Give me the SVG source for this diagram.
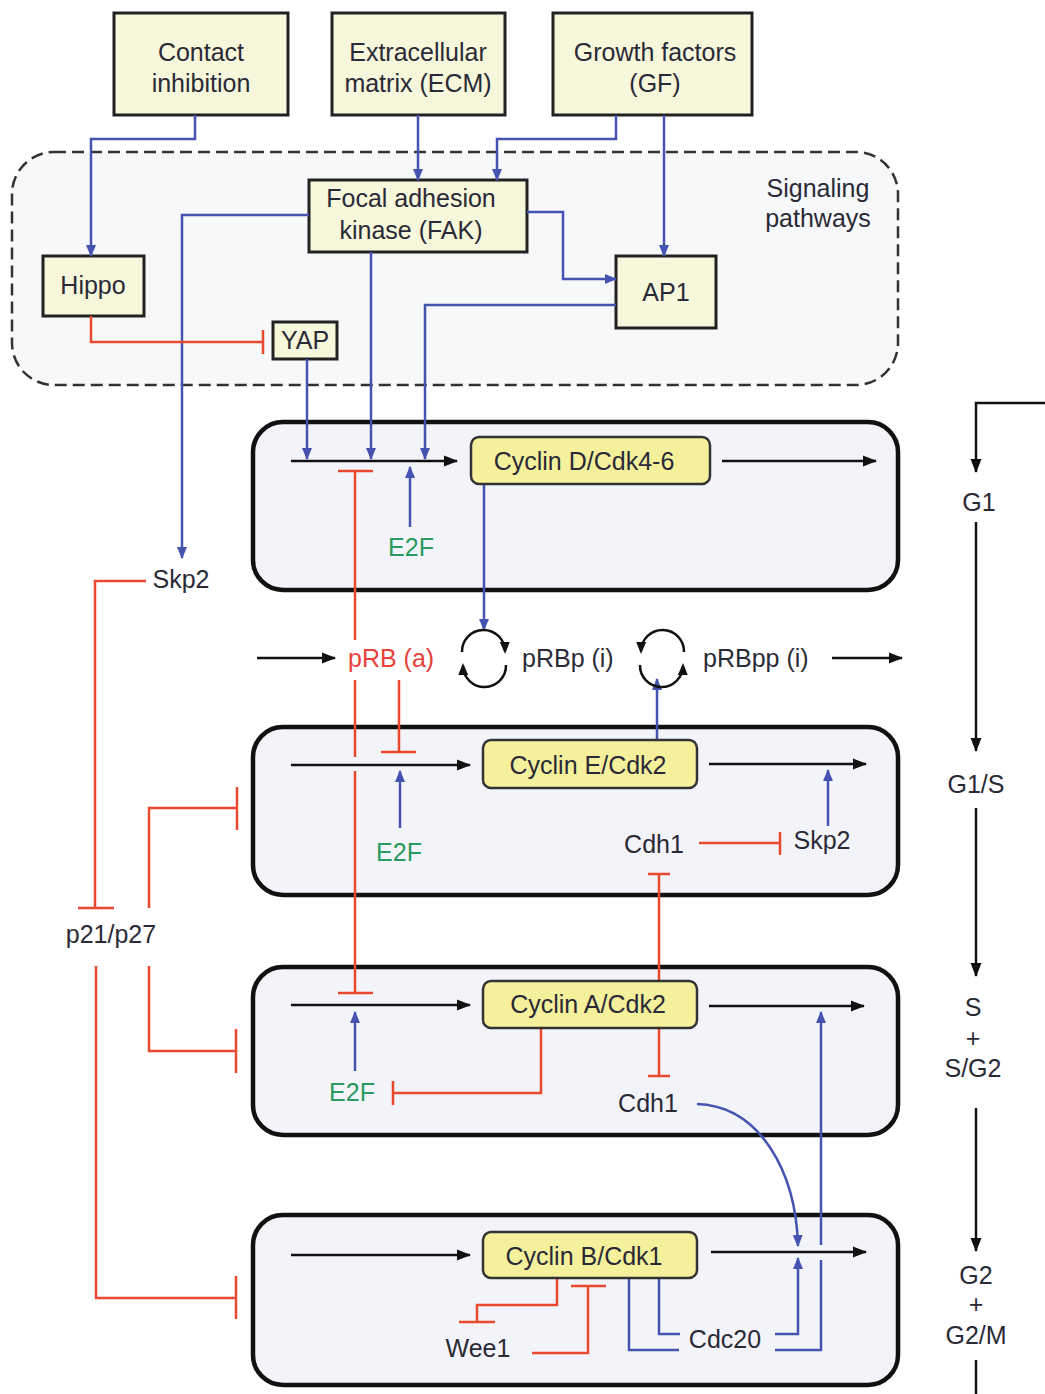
<svg xmlns="http://www.w3.org/2000/svg" width="1045" height="1394" viewBox="0 0 1045 1394">
<style>
.box{fill:#f7f7dc;stroke:#222;stroke-width:3}
.phase{fill:#f3f4f9;stroke:#111;stroke-width:4.5}
.cyc{fill:#f4f09c;stroke:#333;stroke-width:2.5}
text{font-family:"Liberation Sans",Arial,sans-serif;font-size:25px;fill:#2a2a36}
.c{text-anchor:middle}
.red{fill:#e8413a}
.grn{fill:#2a9a5e}
.b{fill:none;stroke:#4553b0;stroke-width:2.5}
.r{fill:none;stroke:#e8492f;stroke-width:2.5}
.k{fill:none;stroke:#111;stroke-width:2.5}
</style>
<defs>
<marker id="ab" markerUnits="userSpaceOnUse" markerWidth="12" markerHeight="12" viewBox="0 0 12 12" refX="11" refY="6" orient="auto"><path d="M0,1 L12,6 L0,11 z" fill="#4553b0"/></marker>
<marker id="ak" markerUnits="userSpaceOnUse" markerWidth="14" markerHeight="14" viewBox="0 0 14 14" refX="13" refY="7" orient="auto"><path d="M0,1.5 L14,7 L0,12.5 z" fill="#111"/></marker>
<marker id="ac" markerUnits="userSpaceOnUse" markerWidth="12" markerHeight="12" viewBox="0 0 12 12" refX="9" refY="6" orient="auto"><path d="M0,1 L12,6 L0,11 z" fill="#111"/></marker>
</defs>
<rect width="1045" height="1394" fill="#fff"/>

<g id="signaling-region">
<rect x="12" y="152" width="886" height="233" rx="42" fill="#f7f8fa" stroke="#333" stroke-width="2.5" stroke-dasharray="12 6"/>
<text class="c" x="818" y="197">Signaling</text>
<text class="c" x="818" y="227">pathways</text>
</g>

<g id="phase-g1"><rect class="phase" x="253" y="422" width="645" height="168" rx="30"/></g>
<g id="phase-g1s"><rect class="phase" x="253" y="727" width="645" height="168" rx="30"/></g>
<g id="phase-s"><rect class="phase" x="253" y="967" width="645" height="168" rx="30"/></g>
<g id="phase-g2m"><rect class="phase" x="253" y="1215" width="645" height="170" rx="30"/></g>

<g id="contact-inhibition"><rect class="box" x="114" y="13" width="174" height="102"/><text class="c" x="201" y="61">Contact</text><text class="c" x="201" y="92">inhibition</text></g>
<g id="ecm"><rect class="box" x="332" y="13" width="173" height="102"/><text class="c" x="418" y="61">Extracellular</text><text class="c" x="418" y="92">matrix (ECM)</text></g>
<g id="gf"><rect class="box" x="553" y="13" width="199" height="102"/><text class="c" x="655" y="61">Growth factors</text><text class="c" x="655" y="92">(GF)</text></g>
<g id="fak"><rect class="box" x="309" y="180" width="218" height="72"/><text class="c" x="411" y="207">Focal adhesion</text><text class="c" x="411" y="239">kinase (FAK)</text></g>
<g id="hippo"><rect class="box" x="43" y="256" width="101" height="60"/><text class="c" x="93" y="294">Hippo</text></g>
<g id="yap"><rect class="box" x="273" y="322" width="64" height="37"/><text class="c" x="305" y="349">YAP</text></g>
<g id="ap1"><rect class="box" x="616" y="256" width="100" height="72"/><text class="c" x="666" y="301">AP1</text></g>

<g id="connectors">
<!-- blue activations -->
<path class="b" d="M195 115 V139 H91 V256" marker-end="url(#ab)"/>
<path class="b" d="M418 115 V180" marker-end="url(#ab)"/>
<path class="b" d="M616 115 V139 H497 V180" marker-end="url(#ab)"/>
<path class="b" d="M664 115 V256" marker-end="url(#ab)"/>
<path class="b" d="M527 212 H563 V279 H616" marker-end="url(#ab)"/>
<path class="b" d="M309 215 H182 V558" marker-end="url(#ab)"/>
<path class="b" d="M371 252 V459" marker-end="url(#ab)"/>
<path class="b" d="M616 305 H425 V459" marker-end="url(#ab)"/>
<path class="b" d="M307 359 V459" marker-end="url(#ab)"/>
<path class="b" d="M410 527 V467" marker-end="url(#ab)"/>
<path class="b" d="M484 484 V630" marker-end="url(#ab)"/>
<path class="b" d="M657 740 V679" marker-end="url(#ab)"/>
<path class="b" d="M400 828 V771" marker-end="url(#ab)"/>
<path class="b" d="M828 826 V770" marker-end="url(#ab)"/>
<path class="b" d="M355 1071 V1012" marker-end="url(#ab)"/>
<path class="b" d="M697 1104 C760 1106 796 1172 798 1246" marker-end="url(#ab)"/>
<path class="b" d="M629 1278 V1350 H679"/>
<path class="b" d="M659 1278 V1334 H680"/>
<path class="b" d="M775 1334 H798 V1258" marker-end="url(#ab)"/>
<path class="b" d="M775 1350 H821 V1260"/>
<path class="b" d="M821 1245 V1012" marker-end="url(#ab)"/>
<!-- red inhibitions -->
<path class="r" d="M91 316 V342 H263 M263 330 V354"/>
<path class="r" d="M355 640 V471 M338 471 H373"/>
<path class="r" d="M355 680 V757 M355 771 V993 M338 993 H373"/>
<path class="r" d="M399 680 V752 M381 752 H416"/>
<path class="r" d="M699 843 H780 M780 832 V855"/>
<path class="r" d="M659 981 V874 M648 874 H670"/>
<path class="r" d="M541 1028 V1093 H393 M393 1081 V1105"/>
<path class="r" d="M659 1028 V1076 M648 1076 H670"/>
<path class="r" d="M146 581 H95 V908 M78 908 H114"/>
<path class="r" d="M149 908 V808 H237 M237 787 V830"/>
<path class="r" d="M149 966 V1051 H236 M236 1029 V1073"/>
<path class="r" d="M96 966 V1298 H236 M236 1276 V1319"/>
<path class="r" d="M557 1278 V1305 H477 V1322 M459 1322 H495"/>
<path class="r" d="M532 1353 H588 V1286 M571 1286 H606"/>
<!-- black progression -->
<path class="k" d="M291 461 H457" marker-end="url(#ak)"/>
<path class="k" d="M722 461 H876" marker-end="url(#ak)"/>
<path class="k" d="M257 658 H335" marker-end="url(#ak)"/>
<path class="k" d="M832 658 H902" marker-end="url(#ak)"/>
<path class="k" d="M291 765 H470" marker-end="url(#ak)"/>
<path class="k" d="M709 764 H866" marker-end="url(#ak)"/>
<path class="k" d="M291 1005 H470" marker-end="url(#ak)"/>
<path class="k" d="M709 1006 H864" marker-end="url(#ak)"/>
<path class="k" d="M291 1255 H470" marker-end="url(#ak)"/>
<path class="k" d="M711 1252 H866" marker-end="url(#ak)"/>
<path class="k" d="M1045 403 H976 V472" marker-end="url(#ak)"/>
<path class="k" d="M976 522 V751" marker-end="url(#ak)"/>
<path class="k" d="M976 808 V976" marker-end="url(#ak)"/>
<path class="k" d="M976 1108 V1251" marker-end="url(#ak)"/>
<path class="k" d="M976 1360 V1394"/>
<!-- cycling icons -->
<path class="k" d="M462 652 A21 21 0 0 1 505 651" marker-end="url(#ac)"/>
<path class="k" d="M506 665 A21 21 0 0 1 463 666" marker-end="url(#ac)"/>
<path class="k" d="M684 652 A21 21 0 0 0 641 651" marker-end="url(#ac)"/>
<path class="k" d="M640 665 A21 21 0 0 0 683 666" marker-end="url(#ac)"/>
</g>

<g id="cyclin-d"><rect class="cyc" x="471" y="437" width="239" height="47" rx="8"/><text class="c" x="584" y="470">Cyclin D/Cdk4-6</text></g>
<g id="cyclin-e"><rect class="cyc" x="483" y="740" width="214" height="48" rx="8"/><text class="c" x="588" y="774">Cyclin E/Cdk2</text></g>
<g id="cyclin-a"><rect class="cyc" x="483" y="981" width="214" height="47" rx="8"/><text class="c" x="588" y="1013">Cyclin A/Cdk2</text></g>
<g id="cyclin-b"><rect class="cyc" x="483" y="1232" width="214" height="46" rx="8"/><text class="c" x="584" y="1265">Cyclin B/Cdk1</text></g>

<g id="labels">
<text class="c grn" x="411" y="556">E2F</text>
<text class="c" x="181" y="588">Skp2</text>
<text class="red" x="348" y="667">pRB (a)</text>
<text x="522" y="667">pRBp (i)</text>
<text x="703" y="667">pRBpp (i)</text>
<text class="c grn" x="399" y="861">E2F</text>
<text class="c" x="654" y="853">Cdh1</text>
<text class="c" x="822" y="849">Skp2</text>
<text class="c" x="111" y="943">p21/p27</text>
<text class="c grn" x="352" y="1101">E2F</text>
<text class="c" x="648" y="1112">Cdh1</text>
<text class="c" x="478" y="1357">Wee1</text>
<text class="c" x="725" y="1348">Cdc20</text>
<text class="c" x="979" y="511">G1</text>
<text class="c" x="976" y="793">G1/S</text>
<text class="c" x="973" y="1016">S</text>
<text class="c" x="973" y="1047">+</text>
<text class="c" x="973" y="1077">S/G2</text>
<text class="c" x="976" y="1284">G2</text>
<text class="c" x="976" y="1313">+</text>
<text class="c" x="976" y="1344">G2/M</text>
</g>
</svg>
